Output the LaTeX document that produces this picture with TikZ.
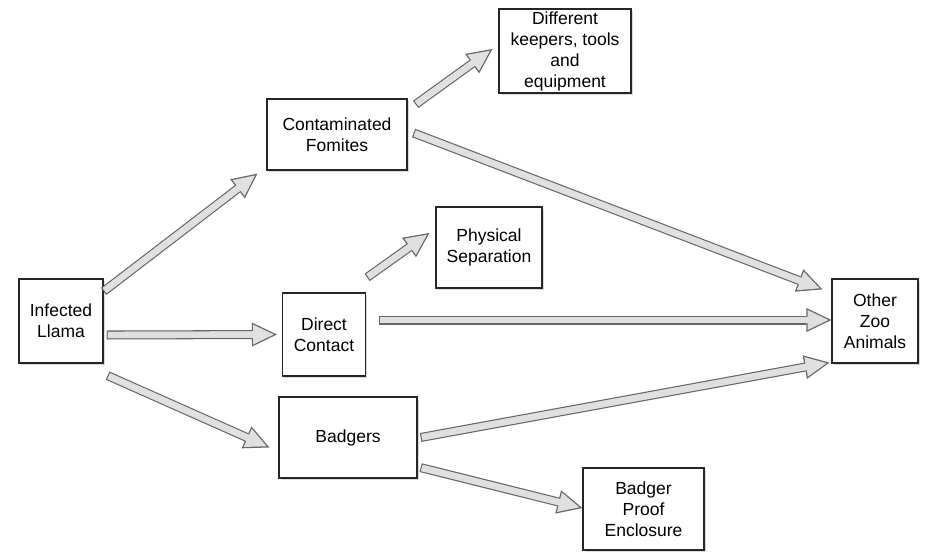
\documentclass[tikz,border=0pt]{standalone}
\usepackage{fontspec}
\setmainfont{Liberation Sans}
\usetikzlibrary{positioning, arrows.meta, shadows}

\tikzset{
  box/.style={draw=black!85, line width=1.2pt, fill=white, align=center, inner sep=0pt,
    font=\fontsize{17.5}{21}\selectfont,
    drop shadow={shadow xshift=1.5pt, shadow yshift=-2pt, opacity=0.3}},
  flow/.style={draw=black!60, line width=9pt,
    -{Triangle[length=25pt,width=24pt,line width=0pt]},
    postaction={draw=black!12, line width=6.4pt, shorten <=1.3pt, shorten >=3pt,
      -{Triangle[length=20.7pt,width=19.9pt,line width=0pt]}},
    postaction={draw=black!12, line width=6.4pt, shorten <=1.3pt, shorten >=16pt, arrows=-}}
}

\begin{document}
\begin{tikzpicture}[x=1pt,y=-1pt,on grid]
\useasboundingbox (0,0) rectangle (925,559);

\node[box,minimum width=84pt,minimum height=84pt] (llama) at (61,321) {Infected\\Llama};
\node[box,minimum width=140pt,minimum height=71pt] (fomites) [above right=186.5pt and 276pt of llama] {Contaminated\\Fomites};
\node[box,minimum width=83pt,minimum height=83pt] (contact) [below right=13.5pt and 263pt of llama] {Direct\\Contact};
\node[box,minimum width=138pt,minimum height=81pt] (badgers) [below right=116.5pt and 287pt of llama] {Badgers};
\node[box,minimum width=132pt,minimum height=84pt] (keepers) [above right=83.5pt and 228pt of fomites] {Different\\keepers, tools\\and\\equipment};
\node[box,minimum width=106pt,minimum height=81pt] (separation) [above right=87pt and 165pt of contact] {Physical\\Separation};
\node[box,minimum width=86pt,minimum height=84pt] (others) [right=814pt of llama] {Other\\Zoo\\Animals};
\node[box,minimum width=121pt,minimum height=82pt] (enclosure) [below right=71.5pt and 295.5pt of badgers] {Badger\\Proof\\Enclosure};

\path
([yshift=-13pt]llama.north east) edge[flow] ([shift={(-9pt,-3pt)}]fomites.south west)
([shift={(3pt,-14pt)}]llama.east) edge[flow] ([xshift=-5pt]contact.west)
([shift={(4pt,-12pt)}]llama.south east) edge[flow] ([shift={(-9pt,-10pt)}]badgers.west)
([shift={(8pt,-6pt)}]fomites.north east) edge[flow] ([shift={(-6pt,2pt)}]keepers.west)
([shift={(6pt,1.5pt)}]fomites.east) edge[flow] ([shift={(-9pt,-11pt)}]others.north west)
([shift={(1pt,15pt)}]contact.north east) edge[flow] ([shift={(-6pt,14.5pt)}]separation.west)
([shift={(13pt,14.5pt)}]contact.east) edge[flow] ([yshift=1pt]others.west)
([xshift=3pt]badgers.east) edge[flow] ([shift={(-2pt,1pt)}]others.south west)
([shift={(3pt,11pt)}]badgers.south east) edge[flow] ([yshift=1pt]enclosure.west);
\end{tikzpicture}
\end{document}
